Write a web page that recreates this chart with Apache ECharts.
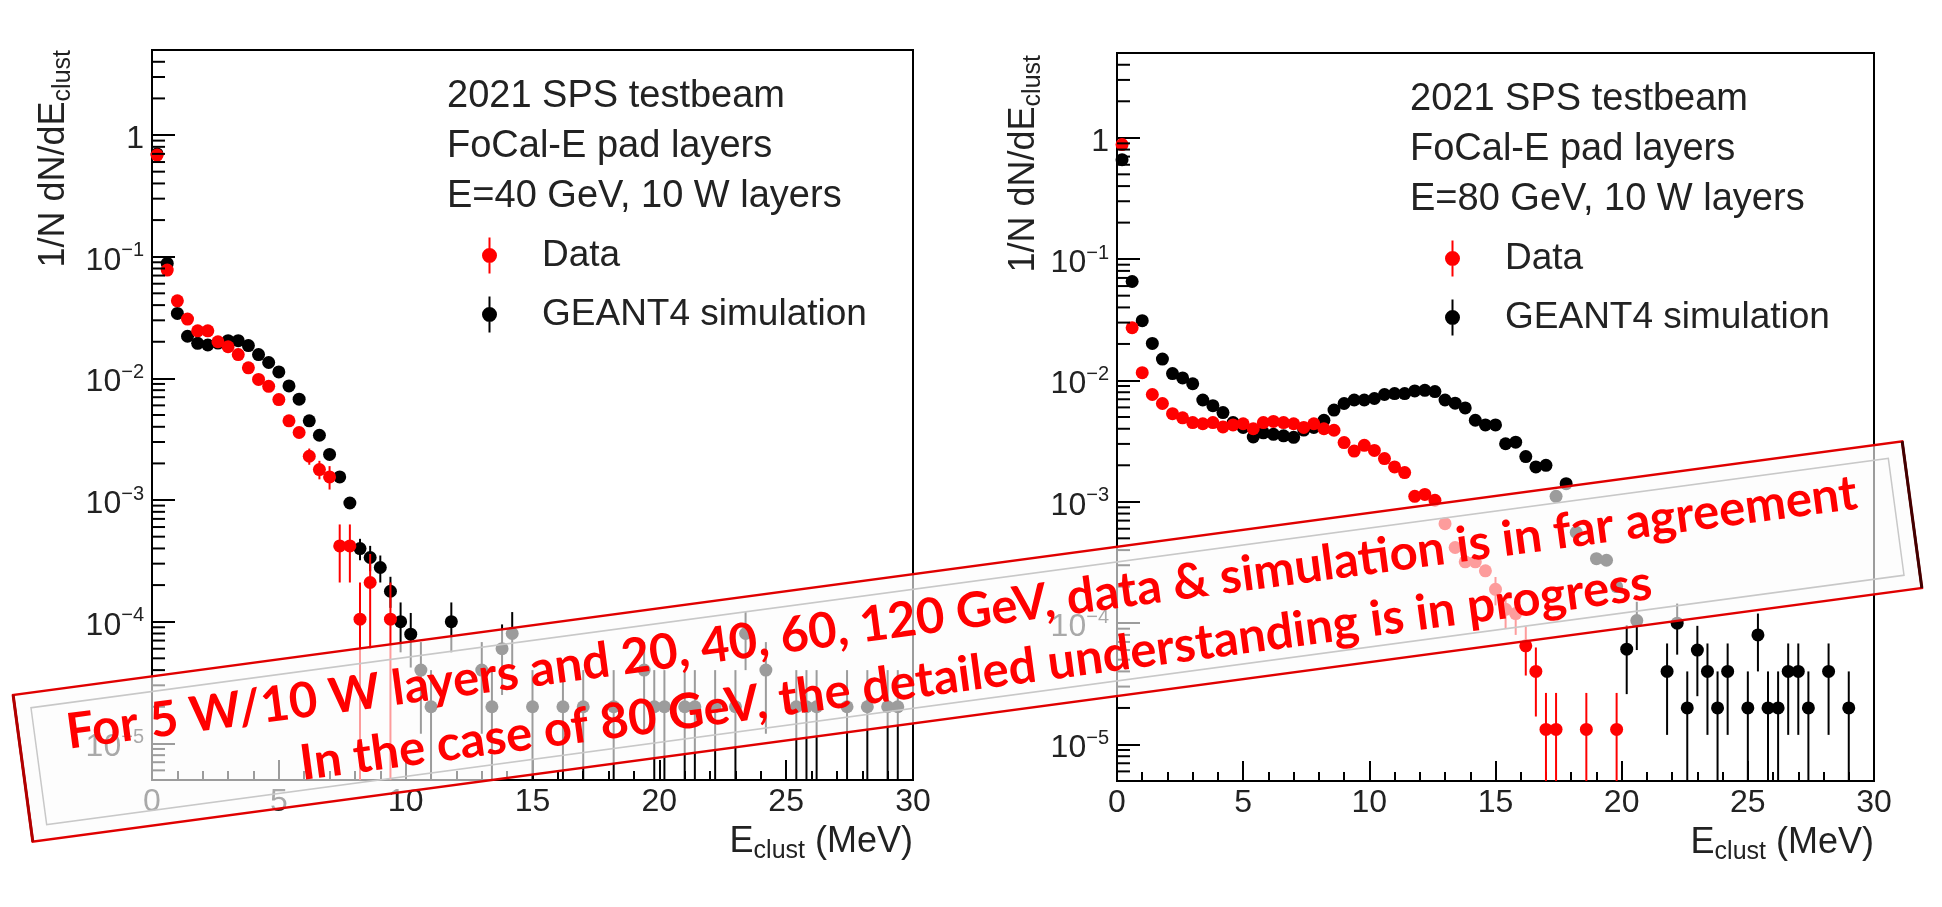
<!DOCTYPE html>
<html>
<head>
<meta charset="utf-8">
<script src="https://cdn.jsdelivr.net/npm/echarts@6.0.0/dist/echarts.min.js"></script>
<style>
  html, body { margin: 0; padding: 0; background: #fff; }
  #chart { width: 1942px; height: 907px; }
</style>
</head>
<body>
<div id="chart"></div>
<script>
// [E_clust (MeV), 1/N dN/dE, err low, err high]  (err only where the bar is visible)
const data40 = [
  [0.2, 0.685], [0.6, 0.0776], [1.0, 0.0434], [1.4, 0.0307], [1.8, 0.0246],
  [2.2, 0.0246], [2.6, 0.0200], [3.0, 0.0182], [3.4, 0.0157], [3.8, 0.0122],
  [4.2, 0.0098], [4.6, 0.0086], [5.0, 0.0067], [5.4, 0.00448], [5.8, 0.00359],
  [6.2, 0.00229, 0.00195, 0.00265], [6.6, 0.00178, 0.00148, 0.0021],
  [7.0, 0.00155, 0.00122, 0.0019], [7.4, 0.00042, 0.00021, 0.00063],
  [7.8, 0.00042, 0.00021, 0.00063], [8.2, 0.000105, 0, 0.00021],
  [8.6, 0.00021, 0.00006, 0.00036], [9.4, 0.000105, 0, 0.00021]
];
const sim40 = [
  [0.2, 0.70], [0.6, 0.088], [1.0, 0.0342], [1.4, 0.0222], [1.8, 0.0194],
  [2.2, 0.0188], [2.6, 0.0195], [3.0, 0.0204], [3.4, 0.0204], [3.8, 0.0186],
  [4.2, 0.0157], [4.6, 0.0135], [5.0, 0.0113], [5.4, 0.00867], [5.8, 0.00675],
  [6.2, 0.00448], [6.6, 0.00341], [7.0, 0.00237], [7.4, 0.00155], [7.8, 0.000946],
  [8.2, 0.000399, 0.00032, 0.00048], [8.6, 0.000337, 0.00026, 0.00042],
  [9.0, 0.000279, 0.00021, 0.00035], [9.4, 0.000178, 0.00013, 0.000234],
  [9.8, 0.0001, 0.000056, 0.000144], [10.2, 0.000079, 0.000042, 0.000118],
  [10.6, 0.00004, 0.000012, 0.000068], [11.0, 0.00002, 0, 0.00004],
  [11.8, 0.0001, 0.000056, 0.000144], [13.0, 0.00004, 0.000012, 0.000068],
  [13.4, 0.00002, 0, 0.00004], [13.8, 0.00006, 0.000025, 0.000095],
  [14.2, 0.00008, 0.00004, 0.00012], [15.0, 0.00002, 0, 0.00004],
  [16.2, 0.00002, 0, 0.00004], [17.0, 0.00002, 0, 0.00004],
  [18.2, 0.00002, 0, 0.00004], [19.4, 0.00004, 0.000012, 0.000068],
  [19.8, 0.00002, 0, 0.00004], [20.2, 0.00002, 0, 0.00004],
  [21.0, 0.00002, 0, 0.00004], [21.4, 0.00002, 0, 0.00004],
  [22.2, 0.00002, 0, 0.00004], [23.0, 0.00002, 0, 0.00004],
  [23.4, 0.00008, 0.00004, 0.00012], [24.2, 0.00004, 0.000012, 0.000068],
  [25.4, 0.00002, 0, 0.00004], [25.8, 0.00002, 0, 0.00004],
  [26.2, 0.00002, 0, 0.00004], [27.4, 0.00002, 0, 0.00004],
  [28.2, 0.00002, 0, 0.00004], [29.0, 0.00002, 0, 0.00004],
  [29.4, 0.00002, 0, 0.00004]
];
const data80 = [
  [0.2, 0.88], [0.6, 0.0272], [1.0, 0.0116], [1.4, 0.00766], [1.8, 0.00646],
  [2.2, 0.00533], [2.6, 0.00492], [3.0, 0.0045], [3.4, 0.0044], [3.8, 0.0045],
  [4.2, 0.00414], [4.6, 0.0043], [5.0, 0.0044], [5.4, 0.0040], [5.8, 0.0045],
  [6.2, 0.0046], [6.6, 0.0045], [7.0, 0.0044], [7.4, 0.0041], [7.8, 0.0044],
  [8.2, 0.0040], [8.6, 0.00389], [9.0, 0.00308], [9.4, 0.00262], [9.8, 0.00292],
  [10.2, 0.00265], [10.6, 0.00227], [11.0, 0.00194], [11.4, 0.00174],
  [11.8, 0.00111], [12.2, 0.00115], [12.6, 0.00103], [13.0, 0.00066],
  [13.4, 0.00042], [13.8, 0.00032], [14.2, 0.00032], [14.6, 0.00027],
  [15.0, 0.00019, 0.00014, 0.00024], [15.4, 0.00013, 0.00009, 0.00017],
  [15.8, 0.00012, 0.00008, 0.00016], [16.2, 0.000065, 0.000037, 0.000094],
  [16.6, 0.00004, 0.000017, 0.000063], [17.0, 0.0000133, 0, 0.0000266],
  [17.4, 0.0000133, 0, 0.0000266], [18.6, 0.0000133, 0, 0.0000266],
  [19.8, 0.0000133, 0, 0.0000266]
];
const sim80 = [
  [0.2, 0.66], [0.6, 0.0654], [1.0, 0.0311], [1.4, 0.0202], [1.8, 0.015],
  [2.2, 0.0114], [2.6, 0.0105], [3.0, 0.0094], [3.4, 0.0069], [3.8, 0.0062],
  [4.2, 0.00544], [4.6, 0.0045], [5.0, 0.0041], [5.4, 0.00342], [5.8, 0.0037],
  [6.2, 0.0036], [6.6, 0.0035], [7.0, 0.0034], [7.4, 0.0039], [7.8, 0.0041],
  [8.2, 0.0047], [8.6, 0.0057], [9.0, 0.00646], [9.4, 0.0069], [9.8, 0.0069],
  [10.2, 0.0071], [10.6, 0.00766], [11.0, 0.0078], [11.4, 0.0078], [11.8, 0.0082],
  [12.2, 0.0083], [12.6, 0.0081], [13.0, 0.0069], [13.4, 0.0065], [13.8, 0.00594],
  [14.2, 0.0047], [14.6, 0.0043], [15.0, 0.0043], [15.4, 0.00301], [15.8, 0.0031],
  [16.2, 0.00236], [16.6, 0.00194], [17.0, 0.0020], [17.4, 0.00111], [17.8, 0.00141],
  [18.2, 0.00056], [19.0, 0.00034], [19.4, 0.00033], [19.8, 0.0002],
  [20.2, 0.000061, 0.000026, 0.000096], [20.6, 0.000105, 0.00006, 0.00015],
  [21.8, 0.00004, 0.000012, 0.000068], [22.2, 0.0001, 0.000055, 0.000145],
  [22.6, 0.00002, 0, 0.00004], [23.0, 0.00006, 0.000025, 0.000095],
  [23.4, 0.00004, 0.000012, 0.000068], [23.8, 0.00002, 0, 0.00004],
  [24.2, 0.00004, 0.000012, 0.000068], [25.0, 0.00002, 0, 0.00004],
  [25.4, 0.00008, 0.00004, 0.00012], [25.8, 0.00002, 0, 0.00004],
  [26.2, 0.00002, 0, 0.00004], [26.6, 0.00004, 0.000012, 0.000068],
  [27.0, 0.00004, 0.000012, 0.000068], [27.4, 0.00002, 0, 0.00004],
  [28.2, 0.00004, 0.000012, 0.000068], [29.0, 0.00002, 0, 0.00004]
];

const headers = [
  '2021 SPS testbeam\nFoCal-E pad layers\nE=40 GeV, 10 W layers',
  '2021 SPS testbeam\nFoCal-E pad layers\nE=80 GeV, 10 W layers'
];
const legendNames = ['Data', 'GEANT4 simulation'];
const bannerLines = [
  'For 5 W/10 W layers and 20, 40, 60, 120 GeV, data & simulation is in far agreement',
  'In the case of 80 GeV, the detailed understanding is in progress'
];

const X_MIN = 0, X_MAX = 30, Y_MIN = 5e-6, Y_MAX = 5;
const FONT = '"Liberation Sans", Arial, Helvetica, sans-serif';
const BANNER_FONT = 'Lato, "Open Sans", sans-serif';
const TXT = '#222';
const RED = '#ff0000';

// minor ticks of the log axis: 2..9 x 10^k
const minorLogTicks = [];
for (let e = -6; e <= 0; e++) {
  for (let m = 2; m <= 9; m++) {
    const v = m * Math.pow(10, e);
    if (v > Y_MIN && v < Y_MAX) minorLogTicks.push(v);
  }
}

const chart = echarts.init(document.getElementById('chart'));

const grids = [
  { left: 152, top: 50, width: 761, height: 730 },
  { left: 1117, top: 53, width: 757, height: 728 }
];

function logLabel(v) {
  const l = Math.log10(v);
  const e = Math.round(l);
  if (Math.abs(l - e) > 1e-6) return '';
  return e === 0 ? '1' : '10{sup|\u2212' + (-e) + '}';
}

function errorBar(params, api) {
  const x = api.value(0);
  const lo = Math.max(api.value(2), Y_MIN);
  const hi = Math.min(api.value(3), Y_MAX);
  const p1 = api.coord([x, hi]);
  const p2 = api.coord([x, lo]);
  return {
    type: 'line',
    shape: { x1: p1[0], y1: p1[1], x2: p2[0], y2: p2[1] },
    style: { stroke: api.visual('color'), lineWidth: 2 }
  };
}

function minorTick(params, api) {
  const p = api.coord([X_MIN, api.value(1)]);
  return {
    type: 'line',
    shape: { x1: p[0], y1: p[1], x2: p[0] + 13, y2: p[1] },
    style: { stroke: '#000', lineWidth: 2 }
  };
}

function panelSeries(i, dataPts, simPts) {
  const withErr = pts => pts.filter(p => p.length === 4);
  const errS = (name, pts, color, z) => ({
    type: 'custom', name: name, xAxisIndex: i, yAxisIndex: i, z: z,
    renderItem: errorBar, data: withErr(pts), itemStyle: { color: color },
    silent: true, clip: true
  });
  const dotS = (name, pts, color, z) => ({
    type: 'scatter', name: name, xAxisIndex: i, yAxisIndex: i, z: z,
    symbol: 'circle', symbolSize: 13, data: pts.map(p => [p[0], p[1]]),
    itemStyle: { color: color, opacity: 1 }, silent: true
  });
  return [
    errS('GEANT4 simulation', simPts, '#000', 2),
    dotS('GEANT4 simulation', simPts, '#000', 3),
    errS('Data', dataPts, RED, 4),
    dotS('Data', dataPts, RED, 5),
    {
      type: 'custom', xAxisIndex: i, yAxisIndex: i, z: 6, silent: true,
      renderItem: minorTick, data: minorLogTicks.map(v => [X_MIN, v])
    }
  ];
}

const LEGEND_ICON = 'path://M6.5,0 L8.5,0 L8.5,36 L6.5,36 Z M0,18 A7.5,7.5 0 1 1 15,18 A7.5,7.5 0 1 1 0,18 Z';

const xAxes = grids.map((g, i) => ({
  type: 'value', gridIndex: i, min: X_MIN, max: X_MAX, interval: 5,
  axisLine: { lineStyle: { color: '#000', width: 2 } },
  axisTick: { inside: true, length: 20, lineStyle: { color: '#000', width: 2 } },
  minorTick: { show: true, splitNumber: 5, length: 9, lineStyle: { color: '#000', width: 2 } },
  splitLine: { show: false },
  axisLabel: { fontSize: 32, color: TXT, fontFamily: FONT, margin: 6 },
  name: '{m|E}{s|clust}{m| (MeV)}',
  nameLocation: 'end', nameGap: 0,
  nameTextStyle: {
    align: 'right', verticalAlign: 'top', padding: [40, 0, 0, 0],
    rich: {
      m: { fontSize: 36, lineHeight: 44, color: TXT, fontFamily: FONT },
      s: { fontSize: 25, lineHeight: 16, verticalAlign: 'bottom', color: TXT, fontFamily: FONT }
    }
  }
}));

const yAxes = grids.map((g, i) => ({
  type: 'log', logBase: 10, gridIndex: i, min: Y_MIN, max: Y_MAX, splitNumber: 6,
  axisLine: { lineStyle: { color: '#000', width: 2 } },
  axisTick: { inside: true, length: 23, lineStyle: { color: '#000', width: 2 } },
  splitLine: { show: false },
  axisLabel: {
    fontSize: 32, color: TXT, fontFamily: FONT, margin: 8, lineHeight: 40,
    padding: [8, 0, 0, 0],
    formatter: logLabel,
    rich: { sup: { fontSize: 20, lineHeight: 12, verticalAlign: 'top', color: TXT, fontFamily: FONT } }
  }
}));

const yNamePos = [[54, 50], [1024, 55]];

// banner box, in its own rotated frame
const BW = 1906, BH = 148;
const bannerStyle = { align: 'center', verticalAlign: 'middle', fill: '#ff0000',
                      fontSize: 49, fontWeight: 'bold', fontFamily: BANNER_FONT };

const option = {
  animation: false,
  backgroundColor: '#fff',
  grid: grids.map(g => Object.assign({ show: true, borderColor: '#000', borderWidth: 2, backgroundColor: 'transparent' }, g)),
  xAxis: xAxes,
  yAxis: yAxes,
  title: [
    { text: headers[0], left: 447, top: 72, padding: 0,
      textStyle: { fontSize: 38, fontWeight: 'normal', lineHeight: 50, color: TXT, fontFamily: FONT } },
    { text: headers[1], left: 1410, top: 75, padding: 0,
      textStyle: { fontSize: 38, fontWeight: 'normal', lineHeight: 50, color: TXT, fontFamily: FONT } }
  ],
  legend: [
    { left: 482, top: 237, padding: 0 },
    { left: 1445, top: 240, padding: 0 }
  ].map(l => Object.assign({
    orient: 'vertical', itemWidth: 15, itemHeight: 36, itemGap: 22,
    icon: LEGEND_ICON, data: legendNames, selectedMode: false,
    textStyle: { fontSize: 37, color: TXT, fontFamily: FONT, padding: [0, 0, 0, 40] }
  }, l)),
  series: panelSeries(0, data40, sim40).concat(panelSeries(1, data80, sim80)),
  graphic: yNamePos.map(p => ({
    type: 'text', x: p[0], y: p[1], rotation: Math.PI / 2, z: 50,
    style: {
      text: '{m|1/N dN/dE}{s|clust}', align: 'right', verticalAlign: 'middle',
      rich: {
        m: { fontSize: 36, lineHeight: 44, fill: TXT, fontFamily: FONT },
        s: { fontSize: 25, lineHeight: 10, verticalAlign: 'bottom', fill: TXT, fontFamily: FONT }
      }
    }
  })).concat([{
    type: 'group', x: 967.5, y: 641.5, rotation: 0.1335, z: 100,
    children: [
      { type: 'rect', z: 100, shape: { x: -BW / 2, y: -BH / 2, width: BW, height: BH },
        style: { fill: 'rgba(252,252,252,0.62)', stroke: '#e00000', lineWidth: 2.5 } },
      { type: 'rect', z: 101, shape: { x: -BW / 2 + 16, y: -BH / 2 + 15, width: BW - 32, height: BH - 30 },
        style: { fill: 'none', stroke: '#c8c8c8', lineWidth: 1.5 } },
      { type: 'line', z: 101, shape: { x1: -BW / 2, y1: -BH / 2, x2: -BW / 2, y2: BH / 2 },
        style: { stroke: '#b00000', lineWidth: 3 } },
      { type: 'line', z: 101, shape: { x1: BW / 2, y1: -BH / 2, x2: BW / 2, y2: BH / 2 },
        style: { stroke: '#400000', lineWidth: 3 } },
      { type: 'text', z: 102, x: -2, y: -29,
        style: Object.assign({ text: bannerLines[0] }, bannerStyle) },
      { type: 'text', z: 102, x: 4, y: 33,
        style: Object.assign({ text: bannerLines[1] }, bannerStyle) }
    ]
  }])
};

chart.setOption(option);
</script>
</body>
</html>
